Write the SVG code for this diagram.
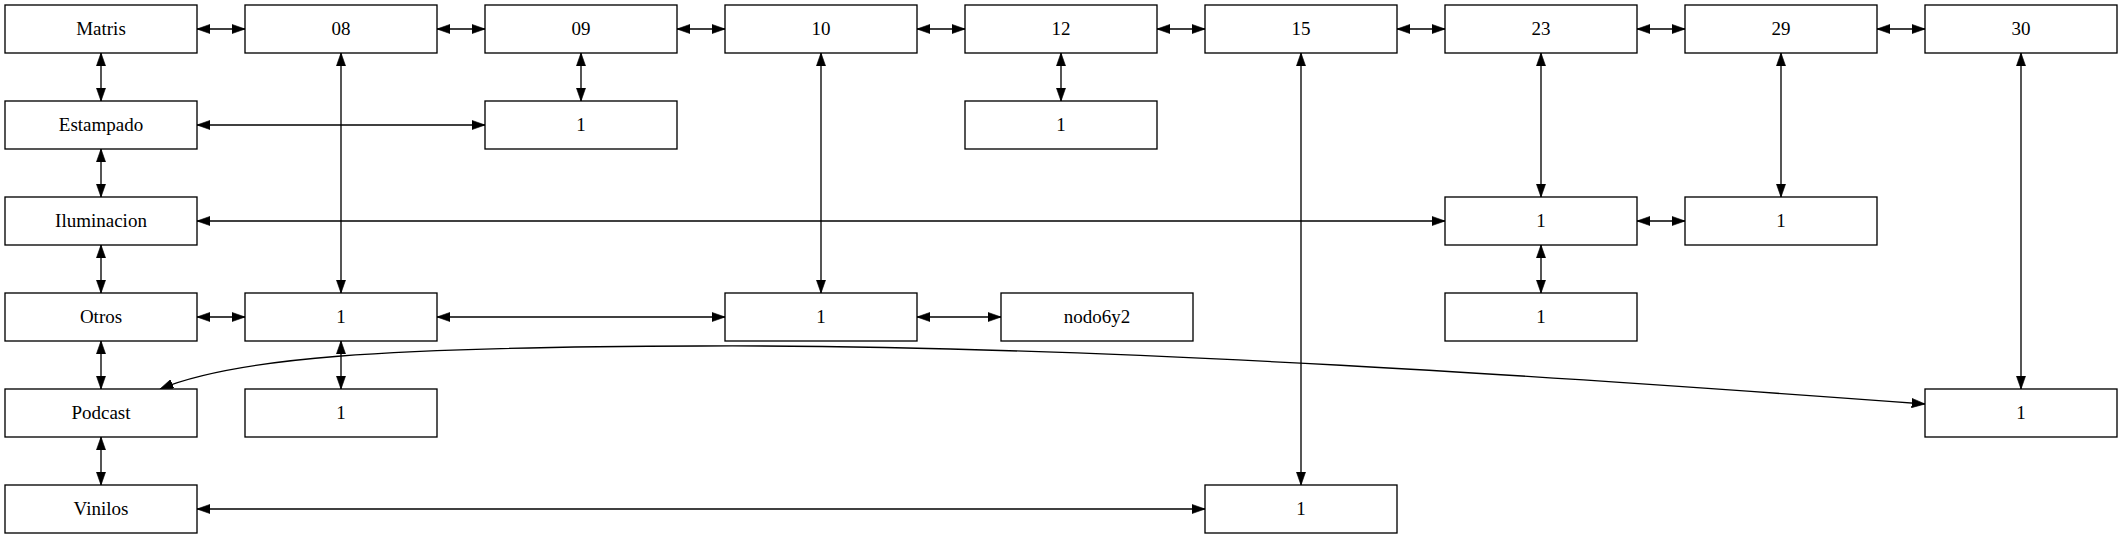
<svg xmlns="http://www.w3.org/2000/svg" width="2123" height="539" viewBox="0 0 2123 539">
<style>
.n rect{fill:#fff;stroke:#000;stroke-width:1.33}
.n text{font-size:19px;text-anchor:middle;fill:#000}
.e path{fill:none;stroke:#000;stroke-width:1.33;marker-start:url(#a);marker-end:url(#a)}
</style>
<defs>
<marker id="a" viewBox="0 0 10 7" refX="10" refY="3.5" markerUnits="userSpaceOnUse" markerWidth="13.3" markerHeight="9.3" orient="auto-start-reverse">
<path d="M0,0 L10,3.5 L0,7 z" fill="#000" stroke="#000" stroke-width="0.5"/>
</marker>
</defs>
<rect width="2123" height="539" fill="#fff"/>
<g id="edges" class="e">
<path d="M197,29H245"/>
<path d="M437,29H485"/>
<path d="M677,29H725"/>
<path d="M917,29H965"/>
<path d="M1157,29H1205"/>
<path d="M1397,29H1445"/>
<path d="M1637,29H1685"/>
<path d="M1877,29H1925"/>
<path d="M101,53V101"/>
<path d="M101,149V197"/>
<path d="M101,245V293"/>
<path d="M101,341V389"/>
<path d="M101,437V485"/>
<path d="M341,53V293"/>
<path d="M581,53V101"/>
<path d="M821,53V293"/>
<path d="M1061,53V101"/>
<path d="M1301,53V485"/>
<path d="M1541,53V197"/>
<path d="M1781,53V197"/>
<path d="M2021,53V389"/>
<path d="M197,125H485"/>
<path d="M197,221H1445"/>
<path d="M1637,221H1685"/>
<path d="M1541,245V293"/>
<path d="M197,317H245"/>
<path d="M437,317H725"/>
<path d="M917,317H1001"/>
<path d="M341,341V389"/>
<path d="M197,509H1205"/>
<path d="M160,389C235,358 380,347 700,346C1100,344 1600,380 1925,404"/>
</g>
<g id="nodes" font-family="'Liberation Serif', 'DejaVu Serif', serif">
<g id="Matris" class="n"><rect x="5" y="5" width="192" height="48"/><text x="101" y="35">Matris</text></g>
<g id="n08" class="n"><rect x="245" y="5" width="192" height="48"/><text x="341" y="35">08</text></g>
<g id="n09" class="n"><rect x="485" y="5" width="192" height="48"/><text x="581" y="35">09</text></g>
<g id="n10" class="n"><rect x="725" y="5" width="192" height="48"/><text x="821" y="35">10</text></g>
<g id="n12" class="n"><rect x="965" y="5" width="192" height="48"/><text x="1061" y="35">12</text></g>
<g id="n15" class="n"><rect x="1205" y="5" width="192" height="48"/><text x="1301" y="35">15</text></g>
<g id="n23" class="n"><rect x="1445" y="5" width="192" height="48"/><text x="1541" y="35">23</text></g>
<g id="n29" class="n"><rect x="1685" y="5" width="192" height="48"/><text x="1781" y="35">29</text></g>
<g id="n30" class="n"><rect x="1925" y="5" width="192" height="48"/><text x="2021" y="35">30</text></g>
<g id="Estampado" class="n"><rect x="5" y="101" width="192" height="48"/><text x="101" y="131">Estampado</text></g>
<g id="n09_1" class="n"><rect x="485" y="101" width="192" height="48"/><text x="581" y="131">1</text></g>
<g id="n12_1" class="n"><rect x="965" y="101" width="192" height="48"/><text x="1061" y="131">1</text></g>
<g id="Iluminacion" class="n"><rect x="5" y="197" width="192" height="48"/><text x="101" y="227">Iluminacion</text></g>
<g id="n23_1" class="n"><rect x="1445" y="197" width="192" height="48"/><text x="1541" y="227">1</text></g>
<g id="n29_1" class="n"><rect x="1685" y="197" width="192" height="48"/><text x="1781" y="227">1</text></g>
<g id="Otros" class="n"><rect x="5" y="293" width="192" height="48"/><text x="101" y="323">Otros</text></g>
<g id="n08_1" class="n"><rect x="245" y="293" width="192" height="48"/><text x="341" y="323">1</text></g>
<g id="n10_1" class="n"><rect x="725" y="293" width="192" height="48"/><text x="821" y="323">1</text></g>
<g id="nodo6y2" class="n"><rect x="1001" y="293" width="192" height="48"/><text x="1097" y="323">nodo6y2</text></g>
<g id="n23_2" class="n"><rect x="1445" y="293" width="192" height="48"/><text x="1541" y="323">1</text></g>
<g id="Podcast" class="n"><rect x="5" y="389" width="192" height="48"/><text x="101" y="419">Podcast</text></g>
<g id="n08_2" class="n"><rect x="245" y="389" width="192" height="48"/><text x="341" y="419">1</text></g>
<g id="n30_1" class="n"><rect x="1925" y="389" width="192" height="48"/><text x="2021" y="419">1</text></g>
<g id="Vinilos" class="n"><rect x="5" y="485" width="192" height="48"/><text x="101" y="515">Vinilos</text></g>
<g id="n15_1" class="n"><rect x="1205" y="485" width="192" height="48"/><text x="1301" y="515">1</text></g>
</g>
</svg>
